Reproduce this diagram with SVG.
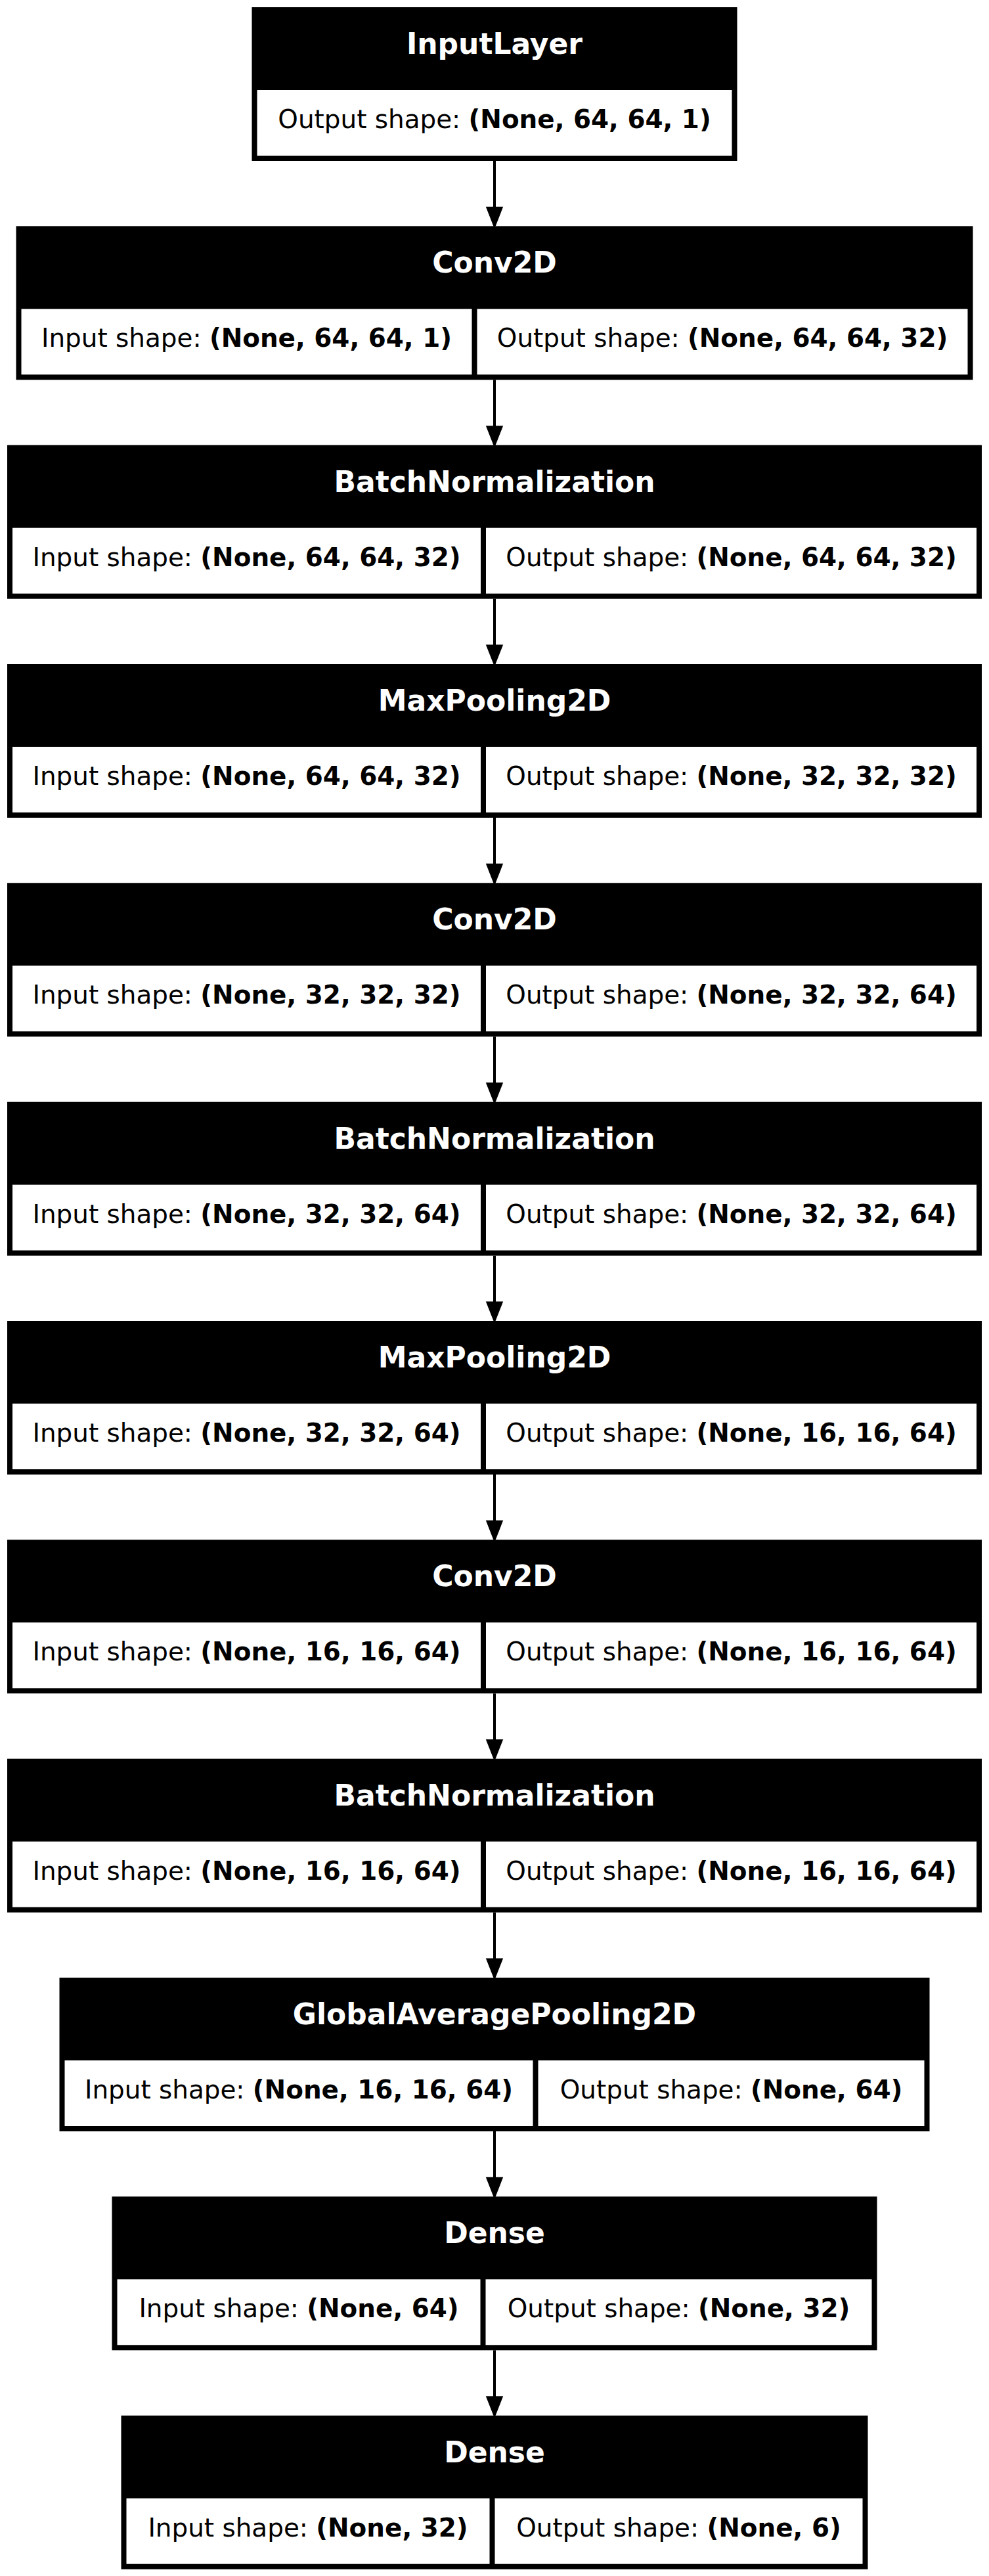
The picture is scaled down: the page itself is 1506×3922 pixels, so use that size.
<svg xmlns="http://www.w3.org/2000/svg" width="1506" height="3922" viewBox="0 0 1506 3922">
<style>
.frame{fill:#000;stroke:none}
.cell{fill:#fff;stroke:none}
.head{font-family:"DejaVu Sans","Liberation Sans",sans-serif;font-size:44px;font-weight:bold;fill:#fff;text-anchor:middle}
.body{font-family:"DejaVu Sans","Liberation Sans",sans-serif;font-size:38.9px;fill:#000;text-anchor:middle}
.b{font-weight:bold}
.edge{stroke:#000;stroke-width:4;fill:none}
</style>
<defs>
<marker id="arr" markerUnits="userSpaceOnUse" markerWidth="34" markerHeight="30" viewBox="-3 -15 34 30" refX="0" refY="0" orient="auto" overflow="visible">
<path d="M0,-11 L28,0 L0,11 Z" fill="#000" stroke="#000" stroke-width="3"/>
</marker>
</defs>
<rect x="0" y="0" width="1506" height="3922" fill="#fff"/>
<g id="edges">
<line class="edge" x1="753" y1="245" x2="753" y2="316.3" marker-end="url(#arr)"/>
<line class="edge" x1="753" y1="578.3" x2="753" y2="649.7" marker-end="url(#arr)"/>
<line class="edge" x1="753" y1="911.7" x2="753" y2="983" marker-end="url(#arr)"/>
<line class="edge" x1="753" y1="1245" x2="753" y2="1316.3" marker-end="url(#arr)"/>
<line class="edge" x1="753" y1="1578.3" x2="753" y2="1649.7" marker-end="url(#arr)"/>
<line class="edge" x1="753" y1="1911.7" x2="753" y2="1983" marker-end="url(#arr)"/>
<line class="edge" x1="753" y1="2245" x2="753" y2="2316.3" marker-end="url(#arr)"/>
<line class="edge" x1="753" y1="2578.3" x2="753" y2="2649.7" marker-end="url(#arr)"/>
<line class="edge" x1="753" y1="2911.7" x2="753" y2="2983" marker-end="url(#arr)"/>
<line class="edge" x1="753" y1="3245" x2="753" y2="3316.3" marker-end="url(#arr)"/>
<line class="edge" x1="753" y1="3578.3" x2="753" y2="3649.7" marker-end="url(#arr)"/>
</g>
<g id="n0" transform="translate(0,11)">
<rect class="frame" x="383.5" y="0" width="739" height="234"/>
<rect class="cell" x="391.5" y="126" width="723" height="100"/>
<text class="head" x="753" y="71">InputLayer</text>
<text class="body" x="753" y="184">Output shape: <tspan class="b">(None, 64, 64, 1)</tspan></text>
</g>
<g id="n1" transform="translate(0,344.3)">
<rect class="frame" x="24.5" y="0" width="1457" height="234"/>
<rect class="cell" x="32.5" y="126" width="686" height="100"/>
<rect class="cell" x="726.5" y="126" width="747" height="100"/>
<text class="head" x="753" y="71">Conv2D</text>
<text class="body" x="375.5" y="184">Input shape: <tspan class="b">(None, 64, 64, 1)</tspan></text>
<text class="body" x="1100" y="184">Output shape: <tspan class="b">(None, 64, 64, 32)</tspan></text>
</g>
<g id="n2" transform="translate(0,677.7)">
<rect class="frame" x="11" y="0" width="1484" height="234"/>
<rect class="cell" x="19" y="126" width="713" height="100"/>
<rect class="cell" x="740" y="126" width="747" height="100"/>
<text class="head" x="753" y="71">BatchNormalization</text>
<text class="body" x="375.5" y="184">Input shape: <tspan class="b">(None, 64, 64, 32)</tspan></text>
<text class="body" x="1113.5" y="184">Output shape: <tspan class="b">(None, 64, 64, 32)</tspan></text>
</g>
<g id="n3" transform="translate(0,1011)">
<rect class="frame" x="11" y="0" width="1484" height="234"/>
<rect class="cell" x="19" y="126" width="713" height="100"/>
<rect class="cell" x="740" y="126" width="747" height="100"/>
<text class="head" x="753" y="71">MaxPooling2D</text>
<text class="body" x="375.5" y="184">Input shape: <tspan class="b">(None, 64, 64, 32)</tspan></text>
<text class="body" x="1113.5" y="184">Output shape: <tspan class="b">(None, 32, 32, 32)</tspan></text>
</g>
<g id="n4" transform="translate(0,1344.3)">
<rect class="frame" x="11" y="0" width="1484" height="234"/>
<rect class="cell" x="19" y="126" width="713" height="100"/>
<rect class="cell" x="740" y="126" width="747" height="100"/>
<text class="head" x="753" y="71">Conv2D</text>
<text class="body" x="375.5" y="184">Input shape: <tspan class="b">(None, 32, 32, 32)</tspan></text>
<text class="body" x="1113.5" y="184">Output shape: <tspan class="b">(None, 32, 32, 64)</tspan></text>
</g>
<g id="n5" transform="translate(0,1677.7)">
<rect class="frame" x="11" y="0" width="1484" height="234"/>
<rect class="cell" x="19" y="126" width="713" height="100"/>
<rect class="cell" x="740" y="126" width="747" height="100"/>
<text class="head" x="753" y="71">BatchNormalization</text>
<text class="body" x="375.5" y="184">Input shape: <tspan class="b">(None, 32, 32, 64)</tspan></text>
<text class="body" x="1113.5" y="184">Output shape: <tspan class="b">(None, 32, 32, 64)</tspan></text>
</g>
<g id="n6" transform="translate(0,2011)">
<rect class="frame" x="11" y="0" width="1484" height="234"/>
<rect class="cell" x="19" y="126" width="713" height="100"/>
<rect class="cell" x="740" y="126" width="747" height="100"/>
<text class="head" x="753" y="71">MaxPooling2D</text>
<text class="body" x="375.5" y="184">Input shape: <tspan class="b">(None, 32, 32, 64)</tspan></text>
<text class="body" x="1113.5" y="184">Output shape: <tspan class="b">(None, 16, 16, 64)</tspan></text>
</g>
<g id="n7" transform="translate(0,2344.3)">
<rect class="frame" x="11" y="0" width="1484" height="234"/>
<rect class="cell" x="19" y="126" width="713" height="100"/>
<rect class="cell" x="740" y="126" width="747" height="100"/>
<text class="head" x="753" y="71">Conv2D</text>
<text class="body" x="375.5" y="184">Input shape: <tspan class="b">(None, 16, 16, 64)</tspan></text>
<text class="body" x="1113.5" y="184">Output shape: <tspan class="b">(None, 16, 16, 64)</tspan></text>
</g>
<g id="n8" transform="translate(0,2677.7)">
<rect class="frame" x="11" y="0" width="1484" height="234"/>
<rect class="cell" x="19" y="126" width="713" height="100"/>
<rect class="cell" x="740" y="126" width="747" height="100"/>
<text class="head" x="753" y="71">BatchNormalization</text>
<text class="body" x="375.5" y="184">Input shape: <tspan class="b">(None, 16, 16, 64)</tspan></text>
<text class="body" x="1113.5" y="184">Output shape: <tspan class="b">(None, 16, 16, 64)</tspan></text>
</g>
<g id="n9" transform="translate(0,3011)">
<rect class="frame" x="90.5" y="0" width="1325" height="234"/>
<rect class="cell" x="98.5" y="126" width="713" height="100"/>
<rect class="cell" x="819.5" y="126" width="588" height="100"/>
<text class="head" x="753" y="71">GlobalAveragePooling2D</text>
<text class="body" x="455" y="184">Input shape: <tspan class="b">(None, 16, 16, 64)</tspan></text>
<text class="body" x="1113.5" y="184">Output shape: <tspan class="b">(None, 64)</tspan></text>
</g>
<g id="n10" transform="translate(0,3344.3)">
<rect class="frame" x="170.5" y="0" width="1165" height="234"/>
<rect class="cell" x="178.5" y="126" width="553" height="100"/>
<rect class="cell" x="739.5" y="126" width="588" height="100"/>
<text class="head" x="753" y="71">Dense</text>
<text class="body" x="455" y="184">Input shape: <tspan class="b">(None, 64)</tspan></text>
<text class="body" x="1033.5" y="184">Output shape: <tspan class="b">(None, 32)</tspan></text>
</g>
<g id="n11" transform="translate(0,3677.7)">
<rect class="frame" x="184.5" y="0" width="1137" height="234"/>
<rect class="cell" x="192.5" y="126" width="553" height="100"/>
<rect class="cell" x="753.5" y="126" width="560" height="100"/>
<text class="head" x="753" y="71">Dense</text>
<text class="body" x="469" y="184">Input shape: <tspan class="b">(None, 32)</tspan></text>
<text class="body" x="1033.5" y="184">Output shape: <tspan class="b">(None, 6)</tspan></text>
</g>
</svg>
